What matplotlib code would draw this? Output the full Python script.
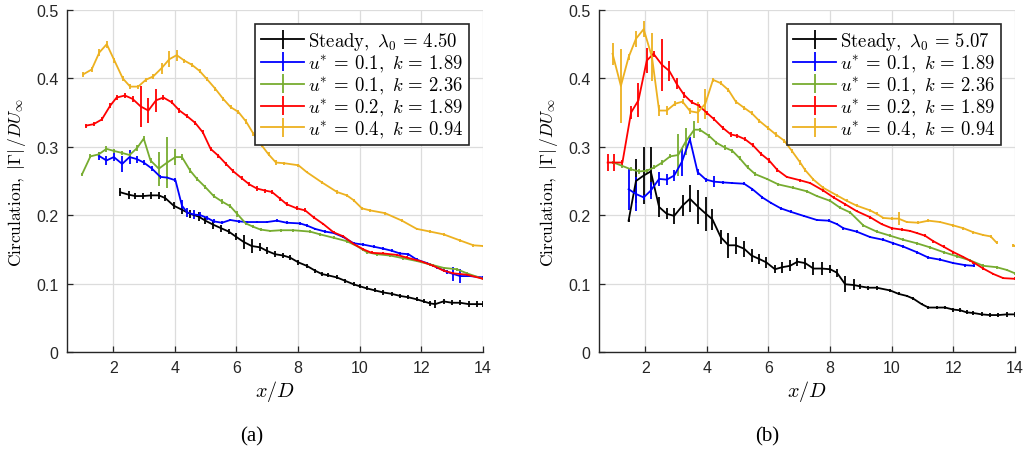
import numpy as np
import matplotlib
matplotlib.use('Agg')
import matplotlib.pyplot as plt
from matplotlib.ticker import FuncFormatter

plt.rcParams['mathtext.fontset'] = 'cm'
plt.rcParams['font.family'] = ['Liberation Sans', 'DejaVu Sans']

colors = ['k', (0, 0, 1), (0.466, 0.674, 0.188), (1, 0, 0), (0.929, 0.694, 0.125)]
labels_a = [r'$\mathrm{Steady,}\ \lambda_0\,=\,4.50$', r'$u^{*}\,=\,0.1,\ k\,=\,1.89$',
            r'$u^{*}\,=\,0.1,\ k\,=\,2.36$', r'$u^{*}\,=\,0.2,\ k\,=\,1.89$',
            r'$u^{*}\,=\,0.4,\ k\,=\,0.94$']
labels_b = [r'$\mathrm{Steady,}\ \lambda_0\,=\,5.07$'] + labels_a[1:]

# ---- panel (a) ----
a_steady_x = [2.23, 2.50, 2.72, 2.97, 3.23, 3.48, 3.69, 3.96, 4.23, 4.50, 4.77, 4.99, 5.25, 5.50,
              5.75, 5.97, 6.23, 6.49, 6.77, 6.98, 7.25, 7.52, 7.74, 8.01, 8.28, 8.55, 8.77, 8.98,
              9.26, 9.53, 9.80, 10.01, 10.23, 10.50, 10.77, 11.04, 11.31, 11.58, 11.85, 12.07,
              12.29, 12.45, 12.72, 12.99, 13.26, 13.53, 13.80, 14.0]
a_steady_y = [.2335, .230, .228, .228, .229, .229, .225, .214, .208, .202, .198, .192, .186, .181,
              .176, .169, .161, .155, .153, .148, .143, .141, .138, .131, .126, .119, .114, .112,
              .109, .104, .099, .096, .093, .090, .087, .085, .082, .080, .077, .074,
              .071, .070, .074, .072, .072, .070, .070, .070]
a_steady_e = [.006, .006, .005, .005, .005, .005, .004, .005, .006, .006, .006, .005, .006, .005,
              .004, .005, .010, .010, .006, .005, .004, .004, .004, .004, .003, .003, .003, .003,
              .003, .003, .003, .003, .003, .003, .003, .003, .003, .003, .003, .003,
              .004, .006, .004, .004, .004, .004, .004, .004]

a_u1k189_x = [1.53, 1.78, 2.02, 2.29, 2.53, 2.77, 2.99, 3.26, 3.53, 3.75, 4.02, 4.23, 4.40, 4.61,
              4.83, 5.05, 5.26, 5.53, 5.80, 6.07, 6.34, 6.67, 6.99, 7.31, 7.63, 8.06, 8.28, 8.55,
              8.88, 9.15, 9.47, 9.80, 10.12, 10.45, 10.77, 11.04, 11.31, 11.58, 11.85, 12.18,
              12.50, 12.83, 13.04, 13.26, 13.58, 14.0]
a_u1k189_y = [.287, .280, .285, .275, .285, .282, .277, .268, .256, .255, .251, .214, .204, .201,
              .200, .196, .191, .189, .193, .191, .190, .190, .190, .192, .189, .188, .185, .180,
              .176, .174, .168, .159, .157, .154, .151, .148, .144, .143, .135, .130,
              .124, .117, .114, .111, .111, .109]
a_u1k189_e = [.006, .006, .006, .012, .010, .005, .004, .004, .003, .003, .003, .008, .006, .006,
              .004, .003, .003, .002, .002, .002, .002, .002, .002, .002, .002, .002, .002, .002,
              .002, .002, .002, .002, .002, .002, .002, .002, .002, .002, .002, .002,
              .002, .003, .010, .010, .002, .002]

a_u1k236_x = [0.99, 1.26, 1.53, 1.78, 2.02, 2.29, 2.53, 2.77, 2.99, 3.21, 3.48, 3.75, 4.02, 4.23,
              4.50, 4.72, 4.99, 5.26, 5.53, 5.80, 6.02, 6.30, 6.55, 6.78, 7.10, 7.43, 7.85, 8.39,
              8.71, 9.15, 9.58, 9.90, 10.23, 10.55, 10.99, 11.42, 11.85, 12.29, 12.72, 13.15,
              13.48, 14.0]
a_u1k236_y = [.260, .286, .289, .297, .294, .291, .288, .298, .312, .280, .268, .277, .285, .285,
              .265, .253, .241, .228, .220, .213, .202, .188, .183, .179, .177, .178, .178, .176,
              .172, .167, .162, .155, .146, .143, .141, .137, .133, .128, .123, .121,
              .115, .107]
a_u1k236_e = [.002, .003, .003, .004, .003, .003, .003, .004, .004, .004, .025, .037, .012, .004,
              .004, .003, .003, .003, .003, .003, .004, .002, .002, .002, .002, .002, .002, .002,
              .002, .002, .002, .002, .002, .002, .002, .002, .002, .002, .002, .002,
              .002, .002]

a_u2k189_x = [1.12, 1.36, 1.63, 1.90, 2.11, 2.38, 2.63, 2.89, 3.14, 3.39, 3.63, 3.90, 4.15, 4.39,
              4.66, 4.91, 5.16, 5.41, 5.66, 5.90, 6.17, 6.42, 6.66, 6.93, 7.15, 7.42, 7.63, 7.96,
              8.23, 8.50, 8.82, 9.15, 9.47, 9.80, 10.12, 10.39, 10.77, 11.20, 11.53, 11.96,
              12.39, 12.72, 13.04, 13.48, 14.0]
a_u2k189_y = [.331, .333, .340, .360, .372, .375, .370, .359, .353, .368, .372, .365, .353, .345,
              .335, .321, .297, .287, .275, .264, .254, .245, .239, .236, .234, .224, .216, .210,
              .207, .197, .187, .175, .169, .158, .150, .145, .144, .142, .138, .133,
              .126, .119, .115, .113, .107]
a_u2k189_e = [.003, .003, .003, .004, .004, .004, .004, .030, .018, .017, .004, .003, .003, .003,
              .003, .003, .003, .003, .003, .003, .003, .003, .003, .003, .003, .003, .003, .003,
              .003, .002, .002, .002, .002, .002, .002, .002, .002, .002, .002, .002,
              .002, .002, .002, .002, .002]

a_u4k094_x = [1.03, 1.30, 1.55, 1.79, 2.04, 2.31, 2.55, 2.81, 3.06, 3.30, 3.57, 3.82, 4.06, 4.31,
              4.55, 4.80, 5.04, 5.31, 5.57, 5.81, 6.06, 6.31, 6.55, 6.82, 7.04, 7.28, 7.55, 8.01,
              8.28, 8.77, 9.26, 9.58, 9.80, 10.07, 10.34, 10.82, 11.37, 11.85, 12.29, 12.72,
              13.26, 13.69, 14.0]
a_u4k094_y = [.406, .413, .438, .450, .426, .400, .388, .388, .398, .403, .415, .428, .434, .426,
              .420, .411, .399, .385, .370, .358, .351, .337, .319, .302, .289, .277, .276, .273,
              .263, .248, .234, .229, .222, .210, .207, .203, .192, .180, .176, .172,
              .163, .156, .155]
a_u4k094_e = [.004, .003, .005, .005, .004, .004, .004, .003, .003, .004, .008, .012, .008, .003,
              .003, .003, .003, .003, .003, .003, .003, .003, .003, .003, .003, .003, .002, .002,
              .002, .002, .003, .002, .002, .002, .002, .002, .002, .002, .002, .002,
              .002, .002, .002]

# ---- panel (b) ----
b_steady_x = [1.46, 1.70, 1.95, 2.18, 2.45, 2.70, 2.94, 3.21, 3.45, 3.72, 3.97, 4.18, 4.45, 4.70,
              4.94, 5.21, 5.45, 5.70, 5.93, 6.21, 6.45, 6.70, 6.94, 7.19, 7.46, 7.73, 8.00, 8.22,
              8.49, 8.76, 8.97, 9.24, 9.51, 9.95, 10.22, 10.49, 10.70, 10.97, 11.19, 11.46,
              11.73, 12.00, 12.22, 12.43, 12.65, 12.92, 13.19, 13.46, 13.73, 14.0]
b_steady_y = [.192, .250, .258, .264, .212, .202, .199, .214, .224, .212, .202, .194, .168, .156,
              .156, .151, .141, .136, .131, .121, .124, .126, .132, .130, .122, .122, .121, .116,
              .099, .098, .096, .094, .094, .090, .085, .082, .078, .070, .065, .065,
              .065, .062, .061, .058, .057, .055, .054, .054, .055, .055]
b_steady_e = [.002, .032, .042, .035, .015, .008, .012, .015, .020, .025, .025, .015, .010, .018,
              .012, .012, .010, .008, .008, .006, .008, .008, .006, .008, .010, .010, .006, .006,
              .012, .008, .004, .003, .003, .002, .002, .002, .002, .002, .002, .002,
              .002, .003, .003, .003, .003, .003, .003, .003, .004, .004]

b_u1k189_x = [1.46, 1.70, 1.95, 2.18, 2.45, 2.70, 2.94, 3.19, 3.45, 3.70, 3.97, 4.24, 4.51, 4.83,
              5.21, 5.48, 5.80, 6.08, 6.40, 6.72, 7.14, 7.57, 7.95, 8.22, 8.43, 8.86, 9.30, 9.73,
              10.05, 10.38, 10.81, 11.19, 11.57, 12.00, 12.38, 12.67]
b_u1k189_y = [.238, .231, .226, .236, .253, .252, .258, .278, .311, .263, .252, .249, .248, .247,
              .246, .238, .226, .218, .210, .205, .199, .193, .192, .187, .181, .176, .168, .164,
              .159, .154, .146, .138, .135, .130, .127, .126]
b_u1k189_e = [.030, .025, .004, .012, .010, .008, .008, .020, .004, .004, .003, .008, .002, .002,
              .002, .002, .002, .002, .002, .002, .002, .002, .002, .002, .002, .002, .002, .002,
              .002, .002, .002, .002, .002, .002, .002, .002]

b_u1k236_x = [0.97, 1.26, 1.54, 1.81, 2.05, 2.30, 2.55, 2.81, 3.07, 3.32, 3.59, 3.77, 4.07, 4.31,
              4.58, 4.83, 5.07, 5.32, 5.57, 5.95, 6.32, 6.81, 7.24, 7.57, 8.00, 8.32, 8.65, 9.08,
              9.51, 9.95, 10.38, 10.81, 11.24, 11.68, 12.11, 12.54, 12.97, 13.40, 13.73, 14.0]
b_u1k236_y = [.277, .272, .267, .264, .265, .270, .277, .286, .288, .308, .325, .325, .316, .306,
              .299, .294, .283, .270, .260, .253, .245, .240, .235, .228, .221, .211, .204, .185,
              .176, .170, .164, .159, .153, .146, .140, .134, .126, .124, .120, .115]
b_u1k236_e = [.002, .003, .003, .004, .003, .003, .003, .003, .030, .020, .012, .003, .003, .003,
              .003, .003, .003, .003, .003, .002, .002, .002, .002, .002, .002, .002, .002, .002,
              .002, .002, .002, .002, .002, .002, .002, .002, .002, .002, .002, .002]

b_u2k189_x = [0.78, 1.00, 1.26, 1.54, 1.78, 2.05, 2.27, 2.54, 2.78, 3.02, 3.26, 3.51, 3.75, 3.99,
              4.24, 4.51, 4.78, 4.99, 5.24, 5.50, 5.75, 6.02, 6.29, 6.59, 7.03, 7.35, 7.78, 8.11,
              8.49, 8.86, 9.30, 9.67, 10.00, 10.32, 10.59, 10.81, 11.08, 11.35, 11.68, 12.00,
              12.32, 12.65, 12.97, 13.30, 13.62, 14.0]
b_u2k189_y = [.277, .277, .277, .350, .368, .426, .436, .420, .411, .392, .376, .365, .360, .350,
              .340, .328, .318, .316, .311, .302, .290, .280, .266, .256, .251, .247, .236, .226,
              .216, .206, .197, .187, .181, .179, .177, .174, .170, .162, .154, .146,
              .139, .131, .122, .114, .108, .107]
b_u2k189_e = [.012, .012, .003, .010, .025, .018, .004, .038, .015, .008, .004, .003, .003, .003,
              .003, .003, .003, .003, .003, .003, .003, .003, .003, .002, .002, .002, .002, .002,
              .002, .002, .002, .002, .002, .002, .002, .002, .002, .002, .002, .002,
              .002, .002, .002, .002, .002, .002]

b_u4k094_x = [0.94, 1.21, 1.46, 1.70, 1.95, 2.22, 2.45, 2.70, 2.97, 3.21, 3.46, 3.70, 3.95, 4.20,
              4.45, 4.70, 4.94, 5.21, 5.46, 5.70, 5.97, 6.24, 6.51, 6.76, 7.03, 7.19, 7.46, 7.78,
              8.22, 8.54, 8.86, 9.30, 9.51, 9.73, 10.00, 10.22, 10.49, 10.86, 11.19, 11.57,
              12.00, 12.32, 12.65, 12.97, 13.21, 13.40, np.nan, 13.95, 14.0]
b_u4k094_y = [.436, .389, .431, .458, .472, .431, .353, .353, .363, .366, .352, .350, .363, .398,
              .393, .383, .366, .357, .349, .338, .328, .318, .309, .294, .277, .266, .252, .240,
              .229, .221, .214, .207, .202, .196, .195, .195, .190, .189, .192, .190,
              .185, .181, .175, .171, .169, .160, np.nan, .156, .155]
b_u4k094_e = [.016, .054, .004, .012, .012, .035, .008, .006, .004, .004, .004, .015, .022, .003,
              .003, .003, .003, .003, .003, .003, .003, .003, .003, .003, .003, .003, .002, .002,
              .002, .002, .002, .002, .002, .002, .002, .010, .002, .002, .002, .002,
              .002, .002, .002, .002, .002, .002, 0, .002, .002]

panel_a = [(a_steady_x, a_steady_y, a_steady_e), (a_u1k189_x, a_u1k189_y, a_u1k189_e),
           (a_u1k236_x, a_u1k236_y, a_u1k236_e), (a_u2k189_x, a_u2k189_y, a_u2k189_e),
           (a_u4k094_x, a_u4k094_y, a_u4k094_e)]
panel_b = [(b_steady_x, b_steady_y, b_steady_e), (b_u1k189_x, b_u1k189_y, b_u1k189_e),
           (b_u1k236_x, b_u1k236_y, b_u1k236_e), (b_u2k189_x, b_u2k189_y, b_u2k189_e),
           (b_u4k094_x, b_u4k094_y, b_u4k094_e)]

axis_col = '#262626'


def draw_panel(ax, series, labels):
    for (x, y, e), c, lab in zip(series, colors, labels):
        ax.errorbar(x, y, yerr=e, color=c, lw=1.3, elinewidth=1.3, capsize=0, label=lab)
    ax.set_xlim(0.5, 14)
    ax.set_ylim(0, 0.5)
    ax.set_xticks(np.arange(2, 15, 2))
    ax.set_yticks(np.arange(0, 0.51, 0.1))
    ax.yaxis.set_major_formatter(FuncFormatter(lambda v, p: '0' if abs(v) < 1e-9 else f'{v:.1f}'))
    ax.grid(True, color='#dcdcdc', lw=0.9)
    ax.set_axisbelow(True)
    for s in ['top', 'right']:
        ax.spines[s].set_visible(False)
    for s in ['left', 'bottom']:
        ax.spines[s].set_color(axis_col)
        ax.spines[s].set_linewidth(1.0)
    ax.tick_params(direction='in', length=4, width=0.9, colors=axis_col, labelsize=11.5,
                   labelcolor='#262626', pad=6)
    ax.set_xlabel(r'$x/D$', fontsize=14.5, labelpad=2)
    ax.set_ylabel(r'$\mathrm{Circulation,}\ |\Gamma|\,/DU_{\infty}$', fontsize=12.5,
                  labelpad=6)
    leg = ax.legend(loc='upper right', fontsize=13.5, frameon=True, fancybox=False, framealpha=1,
                    edgecolor=axis_col, handlelength=2.3, labelspacing=0.05, borderaxespad=0.75,
                    borderpad=0.3, handletextpad=0.2)
    leg.get_frame().set_linewidth(1.2)


fig = plt.figure(figsize=(10.31, 4.52), dpi=100)
ax1 = fig.add_axes([67 / 1031, 1 - 353 / 452, 416 / 1031, 342 / 452])
ax2 = fig.add_axes([599 / 1031, 1 - 353 / 452, 416 / 1031, 342 / 452])
draw_panel(ax1, panel_a, labels_a)
draw_panel(ax2, panel_b, labels_b)

fig.text(252 / 1031, 1 - 437 / 452, '(a)', ha='center', va='center', fontsize=15,
         family=['Liberation Serif', 'DejaVu Serif'])
fig.text(767 / 1031, 1 - 437 / 452, '(b)', ha='center', va='center', fontsize=15,
         family=['Liberation Serif', 'DejaVu Serif'])

fig.savefig('out.png', dpi=100)
